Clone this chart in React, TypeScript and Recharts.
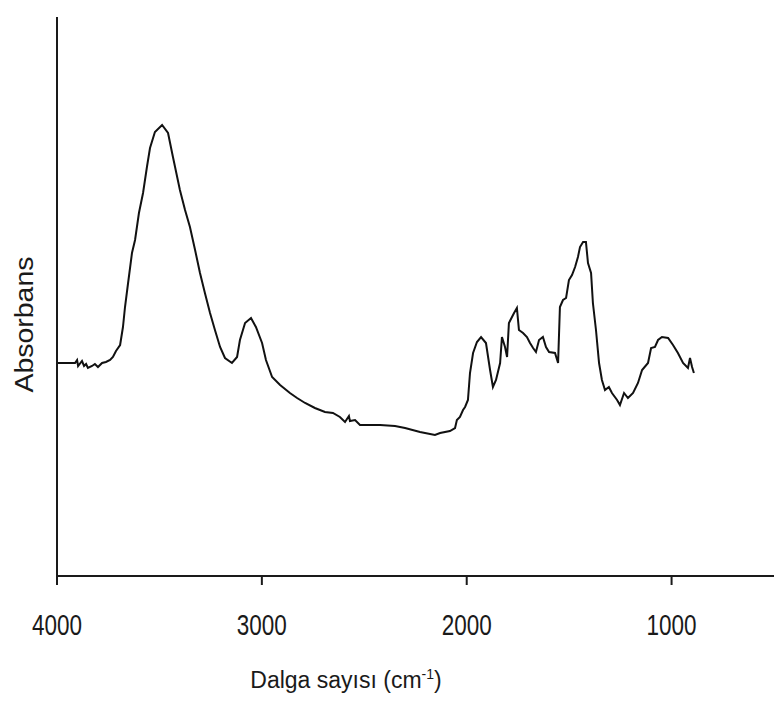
import React from 'react';
import { LineChart, Line, XAxis, YAxis } from 'recharts';

// wavenumber (cm-1) from left to right
const wavenumbers = [
  4000, 3976, 3951, 3912, 3902, 3897, 3878, 3868, 3858, 3849, 3829, 3815, 3800, 3780, 3761, 3741,
  3727, 3712, 3692, 3678, 3668, 3653, 3634, 3619, 3600, 3580, 3561, 3546, 3522, 3487, 3458, 3434,
  3400, 3375, 3351, 3326, 3302, 3278, 3253, 3229, 3204, 3180, 3146, 3121, 3107, 3082, 3053, 3029,
  2999, 2980, 2950, 2911, 2863, 2828, 2789, 2741, 2692, 2653, 2619, 2594, 2575, 2570, 2545, 2521,
  2423, 2350, 2301, 2228, 2155, 2130, 2082, 2057, 2048, 2033, 2018, 2008, 1994, 1984, 1969, 1950,
  1930, 1906, 1886, 1872, 1857, 1837, 1828, 1813, 1803, 1794, 1769, 1755, 1745, 1725, 1706, 1691,
  1676, 1662, 1647, 1628, 1613, 1598, 1569, 1554, 1545, 1530, 1515, 1501, 1486, 1471, 1457, 1447,
  1432, 1418, 1408, 1393, 1384, 1369, 1354, 1340, 1325, 1306, 1291, 1266, 1252, 1232, 1213, 1188,
  1164, 1144, 1115, 1100, 1081, 1066, 1047, 1017, 993, 969, 944, 920, 910, 900, 891,
];

// absorbance (arbitrary units)
const absorbance = [
  0.426, 0.426, 0.426, 0.426, 0.432, 0.42, 0.43, 0.42, 0.424, 0.416, 0.42, 0.424, 0.418, 0.426, 0.428, 0.432,
  0.438, 0.45, 0.462, 0.498, 0.538, 0.586, 0.646, 0.672, 0.726, 0.766, 0.818, 0.856, 0.888, 0.902, 0.886, 0.838,
  0.772, 0.732, 0.698, 0.652, 0.606, 0.566, 0.526, 0.492, 0.458, 0.436, 0.426, 0.438, 0.472, 0.506, 0.516, 0.498,
  0.466, 0.432, 0.398, 0.382, 0.366, 0.356, 0.346, 0.336, 0.328, 0.326, 0.318, 0.308, 0.32, 0.31, 0.312, 0.302,
  0.302, 0.3, 0.296, 0.288, 0.282, 0.286, 0.29, 0.296, 0.312, 0.318, 0.332, 0.338, 0.352, 0.406, 0.446, 0.468,
  0.478, 0.466, 0.412, 0.378, 0.392, 0.426, 0.478, 0.458, 0.438, 0.506, 0.526, 0.536, 0.492, 0.486, 0.478, 0.466,
  0.456, 0.448, 0.472, 0.478, 0.458, 0.448, 0.446, 0.426, 0.538, 0.552, 0.556, 0.592, 0.602, 0.618, 0.638, 0.658,
  0.668, 0.668, 0.626, 0.606, 0.546, 0.492, 0.426, 0.392, 0.372, 0.378, 0.366, 0.352, 0.342, 0.366, 0.356, 0.366,
  0.386, 0.412, 0.426, 0.456, 0.458, 0.472, 0.478, 0.476, 0.462, 0.446, 0.426, 0.416, 0.436, 0.418, 0.406,
];

const xTicks = [4000, 3000, 2000, 1000];

const data = wavenumbers.map((w, i) => ({ w, a: absorbance[i] }));

const font = '"Liberation Sans", Arial, sans-serif';
const ink = '#1a1a1a';

const XTick = (props: any) => {
  const { x, y, payload } = props;
  return (
    <text
      x={x}
      y={y + 48}
      textAnchor="middle"
      fontFamily={font}
      fontSize={29}
      textLength={50}
      lengthAdjust="spacingAndGlyphs"
      fill={ink}
    >
      {String(payload.value)}
    </text>
  );
};

const XTitle = (props: any) => {
  const { viewBox } = props;
  return (
    <text x={viewBox.x + 289} y={viewBox.y + 112} textAnchor="middle" fontFamily={font} fontSize={23} fill={ink}>
      Dalga sayısı (cm
      <tspan dy={-9} fontSize={14}>-1</tspan>
      <tspan dy={9}>)</tspan>
    </text>
  );
};

const YTitle = (props: any) => {
  const { viewBox } = props;
  const cx = viewBox.x + 7;
  const cy = viewBox.y + viewBox.height / 2 + 28;
  return (
    <text
      x={cx}
      y={cy}
      transform={`rotate(-90, ${cx}, ${cy})`}
      textAnchor="middle"
      dominantBaseline="central"
      fontFamily={font}
      fontSize={25}
      textLength={136}
      lengthAdjust="spacingAndGlyphs"
      fill={ink}
    >
      Absorbans
    </text>
  );
};

export default function App() {
  return (
    <div style={{ position: 'absolute', left: 0, top: 0, width: 774, height: 702 }}>
      <LineChart width={774} height={702} data={data} margin={{ top: 17, right: 0, bottom: 0, left: 17 }}>
        <XAxis
          dataKey="w"
          type="number"
          domain={[500, 4000]}
          reversed
          ticks={xTicks}
          allowDataOverflow
          height={126}
          axisLine={{ stroke: ink, strokeWidth: 2 }}
          tickLine={{ stroke: ink, strokeWidth: 2 }}
          tickSize={9}
          tick={<XTick />}
          label={<XTitle />}
        />
        <YAxis
          type="number"
          domain={[0, 1.118]}
          allowDataOverflow
          width={40}
          tick={false}
          tickLine={false}
          axisLine={{ stroke: ink, strokeWidth: 2 }}
          label={<YTitle />}
        />
        <Line
          type="linear"
          dataKey="a"
          stroke="#111"
          strokeWidth={2}
          dot={false}
          isAnimationActive={false}
        />
      </LineChart>
    </div>
  );
}
